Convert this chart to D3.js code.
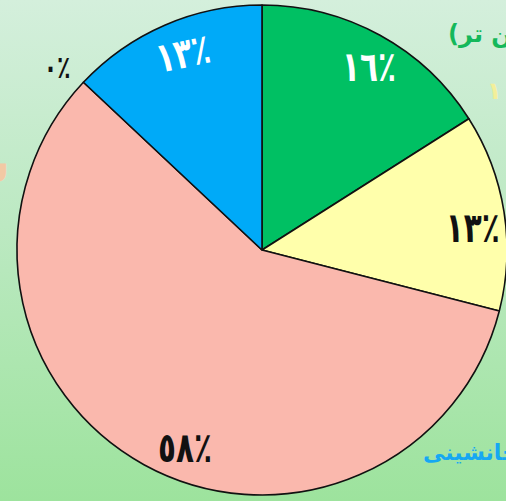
<!DOCTYPE html>
<html>
<head>
<meta charset="utf-8">
<script src="https://cdn.jsdelivr.net/npm/d3@7"></script>
<style>
  body { margin: 0; overflow: hidden; }
</style>
</head>
<body>
<div id="chart"></div>
<script>
// slices, clockwise from 12 o'clock
const categories = ["گروه ۱", "گروه ۲", "گروه ۳", "گروه ۴", "گروه ۵"]
const values = [16, 13, 58, 0, 13]
const valueLabels = ["١٦٪", "١٣٪", "٥٨٪", "٠٪", "١٣٪"]

// legend fragments cut off by the slide edge
const legendTexts = ["(سنین پایین تر)", "۱", "نرخ جانشینی", "سالمندان"]

function drawPie() {

  const width = 506
  const height = 501
  const cx = 262
  const cy = 250
  const radius = 245

  const svg = d3.select("#chart")
    .append("svg")
      .attr("width", width)
      .attr("height", height)

  // background
  const grad = svg.append("defs").append("linearGradient")
      .attr("id", "bg")
      .attr("x1", 0).attr("y1", 0)
      .attr("x2", 0).attr("y2", 1)
  grad.append("stop").attr("offset", "0%").attr("stop-color", "#d4efdc")
  grad.append("stop").attr("offset", "45%").attr("stop-color", "#bce9c2")
  grad.append("stop").attr("offset", "100%").attr("stop-color", "#9de39d")

  svg.append("rect")
      .attr("width", width)
      .attr("height", height)
      .attr("fill", "url(#bg)")

  const color = d3.scaleOrdinal()
    .domain(categories)
    .range(["#00c063", "#ffffab", "#fab8ad", "#fab8ad", "#00aaf8"])

  const labelColor = d3.scaleOrdinal()
    .domain(categories)
    .range(["#ffffff", "#111111", "#111111", "#111111", "#ffffff"])

  const pie = d3.pie()
    .sort(null)
    .value(d => d.value)
    .startAngle(0)
    .endAngle(2 * Math.PI)

  const data = categories.map((c, i) => ({ category: c, value: values[i], label: valueLabels[i] }))
  const arcs = pie(data)

  const arc = d3.arc()
    .innerRadius(0)
    .outerRadius(radius)

  const g = svg.append("g")
    .attr("transform", `translate(${cx},${cy})`)

  g.selectAll("path.slice")
    .data(arcs.filter(d => d.value > 0))
    .join("path")
      .attr("class", "slice")
      .attr("d", arc)
      .attr("fill", d => color(d.data.category))
      .attr("stroke", "#111")
      .attr("stroke-width", 1.6)
      .attr("stroke-linejoin", "round")

  // label placement: a bit inside the rim, small nudges like the original
  const angleNudge = [1.5, 3, -7.5, -1.5, 1.5]
  const rotate = [0, 0, 0, 0, -12]

  g.selectAll("text.value")
    .data(arcs)
    .join("text")
      .attr("class", "value")
      .attr("transform", (d, i) => {
        const r = d.value > 0 ? radius * 0.865 : radius * 1.12
        const a = (d.startAngle + d.endAngle) / 2 + angleNudge[i] * Math.PI / 180
        const x = r * Math.sin(a)
        const y = -r * Math.cos(a)
        return `translate(${x},${y}) rotate(${rotate[i]}) scale(0.92,1.3)`
      })
      .attr("text-anchor", "middle")
      .attr("dominant-baseline", "central")
      .attr("font-family", "'DejaVu Sans', sans-serif")
      .attr("font-weight", "bold")
      .attr("font-size", d => d.value > 0 ? 32 : 24)
      .attr("fill", d => labelColor(d.data.category))
      .text(d => d.data.label)

  // legend fragments
  const legendStyle = [
    { x: 448, y: 42, fill: "#14b85a", size: 24 },
    { x: 487, y: 99, fill: "#f3ef9a", size: 24 },
    { x: 423, y: 460, fill: "#15a8f2", size: 22 },
    { x: 10, y: 182, fill: "#f2c9a4", size: 48 },
  ]
  svg.selectAll("text.legend")
    .data(legendTexts)
    .join("text")
      .attr("class", "legend")
      .attr("x", (d, i) => legendStyle[i].x)
      .attr("y", (d, i) => legendStyle[i].y)
      .attr("direction", "rtl")
      .attr("text-anchor", (d, i) => i === 3 ? "start" : "end")
      .attr("font-family", "'DejaVu Sans', sans-serif")
      .attr("font-weight", "bold")
      .attr("font-size", (d, i) => legendStyle[i].size)
      .attr("fill", (d, i) => legendStyle[i].fill)
      .text(d => d)
}

drawPie()
</script>
</body>
</html>
